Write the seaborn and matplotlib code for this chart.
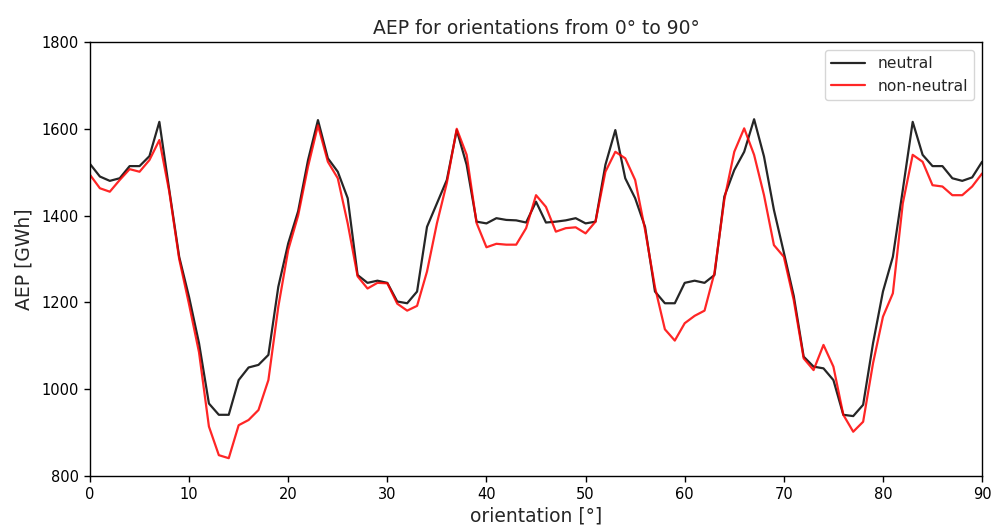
import numpy as np
import pandas as pd
import matplotlib
matplotlib.use("Agg")
import matplotlib.pyplot as plt
import seaborn as sns

# Orientation sweep in degrees
orientation = list(range(0, 91))

# Annual energy production [GWh], neutral atmospheric stability
neutral = [
    1519, 1490, 1480, 1486, 1514, 1514, 1537, 1616, 1459, 1305,
    1212, 1106, 967, 941, 941, 1021, 1050, 1056, 1079, 1236,
    1336, 1410, 1528, 1620, 1532, 1501, 1440, 1263, 1245, 1250,
    1245, 1202, 1198, 1225, 1374, 1428, 1482, 1597, 1517, 1386,
    1382, 1394, 1390, 1389, 1384, 1432, 1384, 1386, 1389, 1394,
    1382, 1386, 1517, 1597, 1486, 1440, 1374, 1225, 1198, 1198,
    1245, 1250, 1245, 1263, 1444, 1505, 1547, 1622, 1536, 1413,
    1315, 1215, 1075, 1052, 1048, 1021, 941, 938, 964, 1106,
    1225, 1305, 1459, 1616, 1540, 1514, 1514, 1486, 1480, 1488,
    1524,
]

# Annual energy production [GWh], non-neutral atmospheric stability
non_neutral = [
    1494, 1463, 1455, 1482, 1507, 1501, 1528, 1574, 1455, 1300,
    1195, 1085, 914, 848, 841, 917, 929, 952, 1021, 1190,
    1321, 1400, 1513, 1608, 1524, 1486, 1382, 1260, 1232, 1245,
    1244, 1197, 1181, 1192, 1271, 1382, 1475, 1600, 1540, 1383,
    1327, 1335, 1333, 1333, 1371, 1447, 1420, 1363, 1371, 1373,
    1359, 1386, 1501, 1547, 1532, 1482, 1367, 1235, 1138, 1112,
    1152, 1169, 1181, 1268, 1437, 1547, 1601, 1540, 1447, 1332,
    1305, 1205, 1071, 1044, 1102, 1052, 941, 902, 925, 1060,
    1167, 1221, 1428, 1540, 1524, 1470, 1467, 1447, 1447, 1467,
    1497,
]

series_names = ["neutral", "non-neutral"]
series_colors = {"neutral": "black", "non-neutral": "red"}

df = pd.concat([
    pd.DataFrame({"orientation": orientation, "AEP": neutral, "case": series_names[0]}),
    pd.DataFrame({"orientation": orientation, "AEP": non_neutral, "case": series_names[1]}),
])

sns.set_theme(style="ticks")
plt.rcParams["font.family"] = ["DejaVu Sans"]

fig = plt.figure(figsize=(9.92, 5.30), dpi=100)
ax = fig.add_axes([0.0907, 0.1019, 0.8993, 0.8189])

sns.lineplot(data=df, x="orientation", y="AEP", hue="case",
             palette=series_colors, hue_order=series_names,
             linewidth=1.6, alpha=0.85, ax=ax)

ax.set_xlim(0, 90)
ax.set_ylim(800, 1800)
ax.set_xticks(np.arange(0, 91, 10))
ax.set_yticks(np.arange(800, 1801, 200))
ax.tick_params(axis="both", labelsize=10.5, length=4, width=1,
               direction="out", pad=4, colors="black")
for s in ax.spines.values():
    s.set_visible(True)
    s.set_linewidth(1.0)
    s.set_color("black")

ax.set_title("AEP for orientations from 0° to 90°", fontsize=13.5)
ax.set_xlabel("orientation [°]", fontsize=13.5, labelpad=3)
ax.set_ylabel("AEP [GWh]", fontsize=13.5, labelpad=6)

leg = ax.legend(loc="upper right", fontsize=11.2, frameon=True, title=None,
                handlelength=2.2)
leg.get_frame().set_edgecolor("0.8")

fig.savefig("out.png", dpi=100)
